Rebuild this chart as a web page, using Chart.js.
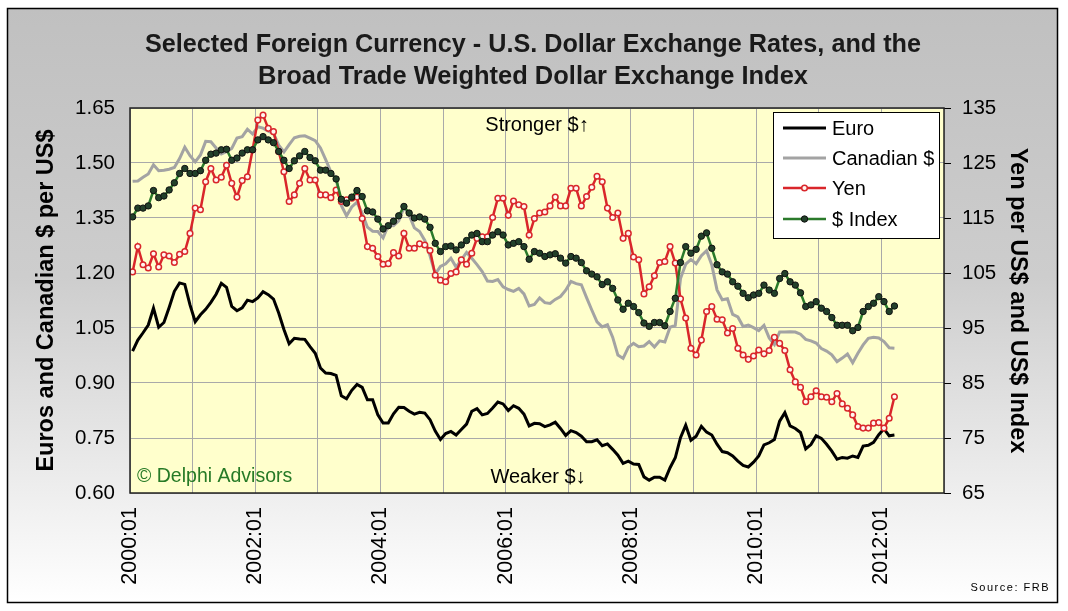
<!DOCTYPE html>
<html>
<head>
<meta charset="utf-8">
<script src="https://cdn.jsdelivr.net/npm/chart.js@4/dist/chart.umd.min.js"></script>
<style>
  html, body { margin: 0; padding: 0; background: #ffffff; }
  #wrap { width: 1068px; height: 611px; position: relative; }
</style>
</head>
<body>
<div id="wrap"><canvas id="c" width="1068" height="611"></canvas></div>
<script>
// ---- Data (monthly, 2000:01 .. 2012:03) ----
const xTickLabels = ['2000:01', '2002:01', '2004:01', '2006:01', '2008:01', '2010:01', '2012:01'];
const leftTicks = [0.60, 0.75, 0.90, 1.05, 1.20, 1.35, 1.50, 1.65];
const rightTicks = [65, 75, 85, 95, 105, 115, 125, 135];

const euro = [
  0.987,1.017,1.037,1.058,1.104,1.052,1.065,1.106,1.150,1.173,1.169,1.113,
  1.067,1.086,1.101,1.120,1.142,1.172,1.161,1.109,1.097,1.105,1.126,1.122,
  1.132,1.149,1.141,1.129,1.091,1.046,1.007,1.022,1.020,1.019,0.999,0.981,
  0.941,0.927,0.926,0.921,0.865,0.857,0.880,0.896,0.888,0.854,0.854,0.813,
  0.791,0.791,0.816,0.834,0.833,0.823,0.815,0.820,0.818,0.800,0.769,0.746,
  0.762,0.768,0.758,0.773,0.788,0.823,0.830,0.813,0.817,0.832,0.848,0.843,
  0.825,0.838,0.831,0.815,0.783,0.790,0.789,0.781,0.786,0.793,0.776,0.757,
  0.770,0.765,0.755,0.740,0.740,0.745,0.729,0.734,0.719,0.703,0.681,0.687,
  0.679,0.678,0.644,0.635,0.643,0.643,0.635,0.669,0.696,0.751,0.785,0.744,
  0.755,0.782,0.766,0.758,0.733,0.713,0.710,0.701,0.687,0.675,0.671,0.684,
  0.701,0.731,0.737,0.746,0.796,0.819,0.783,0.776,0.765,0.720,0.732,0.756,
  0.749,0.733,0.714,0.692,0.697,0.695,0.701,0.697,0.728,0.730,0.738,0.759,
  0.775,0.756,0.758
];
const canadian = [
  1.450,1.451,1.461,1.470,1.495,1.479,1.480,1.483,1.488,1.512,1.543,1.520,
  1.503,1.522,1.559,1.558,1.541,1.525,1.531,1.540,1.568,1.572,1.592,1.579,
  1.599,1.595,1.587,1.581,1.549,1.530,1.550,1.569,1.573,1.574,1.568,1.561,
  1.541,1.509,1.476,1.458,1.384,1.356,1.380,1.393,1.363,1.325,1.314,1.313,
  1.296,1.330,1.329,1.342,1.379,1.358,1.323,1.313,1.289,1.247,1.197,1.218,
  1.225,1.240,1.216,1.236,1.256,1.240,1.223,1.204,1.178,1.177,1.182,1.162,
  1.155,1.150,1.158,1.143,1.110,1.114,1.132,1.119,1.117,1.128,1.136,1.153,
  1.177,1.171,1.168,1.133,1.099,1.067,1.053,1.059,1.025,0.976,0.967,0.997,
  1.008,0.999,1.001,1.013,0.998,1.015,1.012,1.052,1.057,1.185,1.224,1.237,
  1.225,1.247,1.261,1.222,1.154,1.127,1.130,1.087,1.080,1.054,1.058,1.051,
  1.043,1.057,1.023,1.005,1.039,1.039,1.040,1.039,1.033,1.019,1.015,1.009,
  0.994,0.987,0.977,0.958,0.968,0.979,0.955,0.981,1.004,1.022,1.025,1.023,
  1.013,0.996,0.995
];
const yen = [
  105.2,109.8,106.5,105.9,108.5,106.1,108.3,108.1,106.9,108.4,108.9,112.2,
  116.8,116.5,121.6,124.0,121.9,122.4,124.6,121.3,118.8,121.8,122.5,127.4,
  132.8,133.7,131.3,130.7,127.1,123.4,118.0,119.2,121.3,124.0,121.9,121.9,
  119.2,119.2,118.7,120.1,118.0,118.3,118.6,118.8,114.9,109.8,109.5,108.0,
  106.6,106.7,108.7,108.1,112.2,109.5,109.5,110.3,110.1,109.1,104.6,103.7,
  103.4,104.9,105.2,107.4,106.6,108.6,111.3,111.6,111.6,115.1,118.6,118.6,
  115.5,118.1,117.4,117.1,111.9,114.9,115.9,116.1,117.2,118.8,117.2,117.2,
  120.4,120.4,117.2,118.9,120.6,122.6,121.6,116.8,115.1,115.9,111.3,112.2,
  107.9,107.4,101.2,102.5,104.5,106.9,107.1,109.8,106.8,100.3,96.8,91.3,
  90.1,92.8,98.0,98.9,96.6,96.5,94.1,94.9,91.3,90.1,89.3,89.9,
  91.0,90.3,90.9,93.3,92.2,90.9,87.4,85.2,84.2,81.6,82.5,83.6,
  82.5,82.4,81.6,83.1,81.2,80.4,79.2,77.1,76.8,76.8,77.7,77.8,
  76.8,78.6,82.5
];
const dollarIndex = [
  115.2,116.8,116.8,117.2,120.0,118.7,119.0,120.1,121.4,123.1,124.0,123.1,
  123.1,123.6,125.5,126.6,126.8,127.4,127.5,125.5,125.9,126.8,127.4,127.4,
  129.2,129.8,129.2,128.7,127.1,125.5,124.0,125.4,126.3,127.1,126.0,125.4,
  123.7,123.7,123.1,122.1,118.4,117.7,118.8,120.0,118.9,116.3,116.1,114.8,
  113.0,113.6,114.4,115.4,117.1,115.9,115.0,115.2,114.8,113.3,110.4,108.9,
  109.8,109.9,109.2,110.1,110.9,111.9,112.2,110.7,110.7,111.9,112.5,111.9,
  110.1,110.4,110.7,109.8,107.5,108.9,108.6,108.0,108.3,108.5,107.7,106.8,
  108.0,107.7,106.9,105.4,104.8,104.3,102.9,103.4,102.2,100.1,98.4,99.5,
  98.9,97.8,95.9,95.3,96.0,96.0,95.4,98.0,100.4,106.9,109.8,108.6,
  109.3,111.7,112.3,109.5,106.5,105.2,104.8,103.4,102.6,101.3,100.5,101.0,
  101.3,102.8,101.9,101.3,104.0,104.9,103.4,102.8,101.4,98.9,99.2,99.8,
  98.6,98.0,96.9,95.5,95.5,95.5,94.5,95.1,98.0,98.9,99.5,100.7,
  99.8,98.0,99.0
];

// monthly position on a linear month axis, centred in each month slot
const toPoints = arr => arr.map((v, i) => ({ x: i + 0.5, y: v }));
const monthsOnAxis = 156; // 2000:01 .. 2012:12

const FONT = "'Liberation Sans', Arial, sans-serif";

function fitText(ctx, text, cx, cy, targetW) {
  const w = ctx.measureText(text).width;
  const s = targetW / w;
  ctx.save();
  ctx.translate(cx, cy);
  ctx.scale(s, 1);
  ctx.fillText(text, 0, 0);
  ctx.restore();
}

const decor = {
  id: 'decor',
  beforeDraw(chart) {
    const ctx = chart.ctx;
    const W = chart.width, H = chart.height;
    ctx.save();
    ctx.fillStyle = '#ffffff';
    ctx.fillRect(0, 0, W, H);
    const g = ctx.createLinearGradient(0, 8, 0, 603);
    g.addColorStop(0, '#c0c0c0');
    g.addColorStop(0.45, '#cdcdcd');
    g.addColorStop(1, '#ffffff');
    ctx.fillStyle = g;
    ctx.fillRect(7, 8, 1050, 595);
    ctx.strokeStyle = '#000';
    ctx.lineWidth = 1.5;
    ctx.strokeRect(7.5, 8.5, 1050, 594);
    const a = chart.chartArea;
    ctx.fillStyle = '#ffffcc';
    ctx.fillRect(a.left, a.top, a.right - a.left, a.bottom - a.top);
    // title
    ctx.fillStyle = '#1a1a1a';
    ctx.font = "bold 26px " + FONT;
    ctx.textAlign = 'center';
    ctx.textBaseline = 'middle';
    fitText(ctx, 'Selected Foreign Currency - U.S. Dollar Exchange Rates, and the', 533, 45, 776);
    fitText(ctx, 'Broad Trade Weighted Dollar Exchange Index', 533, 77, 550);
    ctx.restore();
  },
  afterDatasetsDraw(chart) {
    const ctx = chart.ctx;
    const a = chart.chartArea;
    ctx.save();
    ctx.strokeStyle = '#222';
    ctx.lineWidth = 1.5;
    ctx.strokeRect(a.left, a.top, a.right - a.left, a.bottom - a.top);
    ctx.fillStyle = '#000';
    ctx.font = "20px " + FONT;
    ctx.textAlign = 'center';
    ctx.textBaseline = 'middle';
    ctx.fillText('Stronger $\u2191', 537, 125);
    ctx.fillText('Weaker $\u2193', 538, 477);
    ctx.textAlign = 'left';
    ctx.fillStyle = '#267a26';
    ctx.font = "19.5px " + FONT;
    ctx.fillText('\u00A9 Delphi Advisors', 137, 477);
    // source
    ctx.fillStyle = '#000';
    ctx.font = "11px " + FONT;
    ctx.textAlign = 'right';
    if ('letterSpacing' in ctx) ctx.letterSpacing = '1.5px';
    ctx.fillText('Source: FRB', 1050, 588);
    if ('letterSpacing' in ctx) ctx.letterSpacing = '0px';
    // legend
    const lx = 773, ly = 112, lw = 166, lh = 126;
    ctx.fillStyle = '#ffffff';
    ctx.fillRect(lx, ly, lw, lh);
    ctx.strokeStyle = '#000';
    ctx.lineWidth = 1;
    ctx.strokeRect(lx + 0.5, ly + 0.5, lw, lh);
    const rows = [128, 158, 188, 219];
    chart.data.datasets.forEach((ds, i) => {
      const y = rows[i];
      ctx.strokeStyle = ds.borderColor;
      ctx.lineWidth = ds.borderWidth;
      ctx.beginPath();
      ctx.moveTo(783, y);
      ctx.lineTo(826, y);
      ctx.stroke();
      if (ds.pointRadius > 0) {
        ctx.beginPath();
        ctx.arc(804.5, y, ds.pointRadius, 0, Math.PI * 2);
        ctx.fillStyle = ds.pointBackgroundColor;
        ctx.fill();
        ctx.lineWidth = ds.pointBorderWidth;
        ctx.strokeStyle = ds.pointBorderColor;
        ctx.stroke();
      }
      ctx.fillStyle = '#000';
      ctx.font = "20px " + FONT;
      ctx.textAlign = 'left';
      ctx.textBaseline = 'middle';
      ctx.fillText(ds.label, 832, y + 1);
    });
    ctx.restore();
  }
};

const tickFont = { family: FONT, size: 20.5 };

new Chart(document.getElementById('c'), {
  type: 'line',
  data: {
    datasets: [
      { label: 'Euro', data: toPoints(euro), yAxisID: 'y', borderColor: '#000000', borderWidth: 3,
        pointRadius: 0, tension: 0, order: 4 },
      { label: 'Canadian $', data: toPoints(canadian), yAxisID: 'y', borderColor: '#a3a3a3', borderWidth: 3,
        pointRadius: 0, tension: 0, order: 3 },
      { label: 'Yen', data: toPoints(yen), yAxisID: 'y1', borderColor: '#d9262b', borderWidth: 2.5,
        pointRadius: 2.8, pointBackgroundColor: '#fff6f0', pointBorderColor: '#d9262b', pointBorderWidth: 1.5,
        tension: 0, order: 2 },
      { label: '$ Index', data: toPoints(dollarIndex), yAxisID: 'y1', borderColor: '#2b7a2b', borderWidth: 2.5,
        pointRadius: 3.2, pointBackgroundColor: '#22402a', pointBorderColor: '#111', pointBorderWidth: 1,
        tension: 0, order: 1 }
    ]
  },
  options: {
    responsive: false,
    animation: false,
    devicePixelRatio: 1,
    layout: { padding: { top: 108, left: 28, right: 32, bottom: 0 } },
    plugins: { legend: { display: false }, title: { display: false }, tooltip: { enabled: false } },
    scales: {
      x: {
        type: 'linear', min: 0, max: monthsOnAxis,
        afterBuildTicks: s => { s.ticks = []; for (let m = 0; m <= monthsOnAxis; m += 12) s.ticks.push({ value: m }); },
        afterFit: s => { s.height = 118; },
        ticks: {
          autoSkip: false, minRotation: 90, maxRotation: 90, padding: 14, color: '#000',
          font: { family: FONT, size: 21.5 },
          callback: v => (v % 24 === 0 && v / 24 < xTickLabels.length) ? xTickLabels[v / 24] : ''
        },
        grid: { color: '#a9a9a9', lineWidth: 1, drawTicks: false },
        border: { display: false }
      },
      y: {
        position: 'left', min: leftTicks[0], max: leftTicks[leftTicks.length - 1],
        afterBuildTicks: s => { s.ticks = leftTicks.map(v => ({ value: v })); },
        afterFit: s => { s.width = 102; },
        ticks: { color: '#000', font: tickFont, padding: 15, callback: v => Number(v).toFixed(2) },
        grid: { color: '#a9a9a9', lineWidth: 1, drawTicks: false },
        border: { display: false },
        title: { display: true, text: 'Euros and Canadian $ per US$', color: '#000',
                 font: { family: FONT, size: 23.5, weight: 'bold' }, padding: { top: 4, bottom: 4 } }
      },
      y1: {
        position: 'right', min: rightTicks[0], max: rightTicks[rightTicks.length - 1],
        afterBuildTicks: s => { s.ticks = rightTicks.map(v => ({ value: v })); },
        afterFit: s => { s.width = 92; },
        ticks: { color: '#000', font: tickFont, padding: 11 },
        grid: { drawOnChartArea: false, drawTicks: true, tickLength: 7, tickColor: '#000', tickWidth: 1 },
        border: { display: false },
        title: { display: true, text: 'Yen per US$ and US$ Index', color: '#000',
                 font: { family: FONT, size: 23.5, weight: 'bold' }, padding: { top: 4, bottom: 4 } }
      }
    }
  },
  plugins: [decor]
});
</script>
</body>
</html>
